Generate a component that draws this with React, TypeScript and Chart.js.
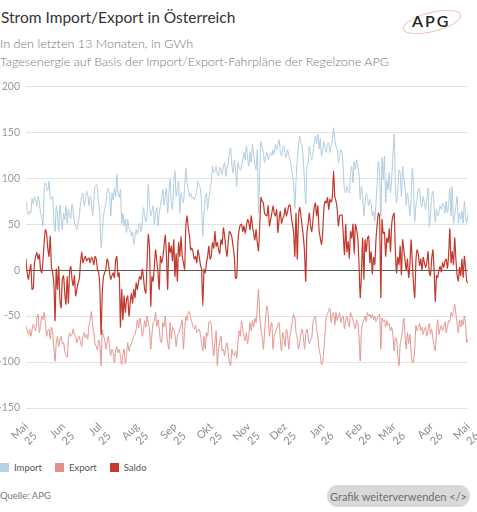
import React, { useEffect, useRef } from "react";
import { Chart, registerables } from "chart.js";

Chart.register(...registerables);

// Daily values, 1 May 2025 .. 1 May 2026 (GWh)
const importValues: number[] = [
  75, 66, 60, 64, 62, 78, 72, 80, 76, 70,
  80, 74, 62, 58, 48, 88, 95, 90, 86, 97,
  80, 77, 80, 55, 42, 70, 60, 42, 71, 58,
  44, 62, 55, 70, 51, 66, 60, 56, 72, 64,
  51, 48, 44, 52, 59, 72, 80, 84, 70, 77,
  86, 82, 70, 80, 76, 59, 74, 91, 93, 88,
  73, 62, 24, 40, 59, 66, 73, 86, 89, 82,
  59, 84, 76, 89, 80, 104, 84, 79, 88, 51,
  62, 48, 56, 41, 55, 46, 44, 37, 42, 28,
  36, 44, 39, 47, 51, 42, 50, 68, 59, 52,
  60, 93, 72, 59, 64, 70, 50, 62, 68, 48,
  62, 70, 78, 88, 71, 80, 89, 62, 84, 99,
  72, 66, 94, 108, 80, 88, 97, 62, 84, 78,
  73, 90, 111, 95, 88, 80, 84, 78, 80, 76,
  80, 86, 97, 92, 89, 70, 37, 62, 77, 84,
  66, 78, 88, 96, 113, 106, 108, 113, 104, 102,
  112, 109, 104, 113, 117, 102, 110, 117, 128, 133,
  115, 106, 120, 110, 91, 117, 112, 109, 114, 120,
  128, 120, 135, 122, 113, 128, 117, 137, 126, 115,
  109, 131, 62, 106, 140, 134, 128, 117, 124, 128,
  120, 126, 128, 124, 131, 126, 137, 131, 136, 142,
  129, 124, 133, 135, 126, 122, 131, 125, 120, 113,
  104, 95, 67, 98, 120, 135, 146, 138, 135, 120,
  96, 72, 113, 117, 135, 125, 120, 128, 137, 146,
  138, 148, 132, 143, 124, 130, 140, 133, 128, 138,
  138, 128, 135, 142, 155, 142, 135, 131, 117, 124,
  131, 128, 109, 87, 84, 91, 86, 84, 104, 113,
  95, 118, 109, 120, 112, 104, 77, 91, 82, 59,
  73, 84, 78, 70, 77, 72, 59, 64, 53, 73,
  95, 118, 106, 59, 122, 98, 124, 73, 98, 87,
  106, 84, 100, 124, 148, 95, 73, 86, 109, 106,
  80, 113, 100, 91, 70, 84, 74, 59, 77, 111,
  95, 53, 70, 77, 89, 88, 73, 69, 80, 73,
  66, 77, 89, 47, 59, 80, 86, 70, 52, 66,
  59, 62, 70, 66, 73, 70, 62, 75, 62, 72,
  89, 59, 91, 51, 60, 70, 80, 51, 62, 55,
  64, 51, 75, 58, 51, 62,
];

const exportValues: number[] = [
  -61, -66, -70, -64, -72, -65, -59, -63, -66, -52,
  -48, -68, -60, -50, -54, -46, -57, -72, -66, -64,
  -75, -62, -68, -85, -99, -79, -72, -83, -76, -72,
  -80, -79, -88, -93, -95, -75, -68, -72, -70, -64,
  -70, -72, -79, -74, -72, -78, -83, -72, -68, -74,
  -70, -75, -60, -54, -45, -59, -68, -80, -83, -87,
  -76, -80, -104, -65, -72, -75, -86, -78, -72, -84,
  -93, -86, -90, -101, -88, -83, -90, -86, -94, -103,
  -92, -86, -102, -93, -79, -88, -83, -80, -76, -72,
  -70, -64, -54, -63, -52, -60, -72, -66, -55, -62,
  -50, -58, -64, -86, -70, -57, -55, -46, -61, -54,
  -64, -77, -79, -57, -62, -50, -66, -79, -86, -57,
  -75, -62, -64, -70, -83, -72, -69, -64, -60, -54,
  -86, -66, -50, -55, -46, -45, -52, -57, -62, -64,
  -60, -68, -66, -64, -70, -79, -88, -72, -86, -68,
  -72, -57, -55, -60, -79, -93, -79, -66, -104, -86,
  -78, -72, -88, -86, -93, -84, -79, -90, -101, -104,
  -86, -92, -93, -88, -96, -79, -66, -72, -55, -64,
  -72, -77, -68, -80, -70, -57, -66, -55, -62, -52,
  -57, -40, -21, -50, -64, -72, -86, -68, -50, -39,
  -48, -72, -62, -57, -86, -72, -68, -64, -60, -57,
  -75, -88, -68, -74, -83, -64, -70, -86, -72, -64,
  -55, -48, -52, -68, -74, -86, -79, -70, -64, -72,
  -86, -70, -64, -72, -80, -76, -74, -57, -52, -50,
  -64, -72, -86, -92, -103, -100, -86, -68, -50, -48,
  -43, -41, -57, -48, -46, -60, -46, -55, -50, -46,
  -57, -52, -50, -64, -55, -50, -57, -62, -46, -50,
  -54, -60, -64, -54, -58, -72, -99, -66, -58, -54,
  -50, -56, -46, -50, -48, -52, -48, -54, -50, -56,
  -52, -50, -48, -86, -52, -56, -54, -62, -55, -60,
  -58, -66, -62, -70, -88, -74, -74, -93, -104, -80,
  -74, -64, -52, -70, -86, -68, -80, -70, -88, -101,
  -99, -86, -60, -66, -62, -58, -66, -62, -70, -64,
  -62, -72, -66, -58, -70, -64, -74, -82, -88, -66,
  -54, -70, -64, -60, -66, -62, -56, -68, -62, -55,
  -56, -46, -50, -45, -37, -48, -58, -68, -54, -62,
  -54, -60, -50, -58, -79, -75,
];

const saldoValues: number[] = [
  12, -3, -10, -1, 6, -21, -20, 8, 15, 19,
  12, 17, 1, -3, 10, 30, 44, 40, 24, 15,
  37, 4, -3, -14, -55, 1, -21, 4, -32, -41,
  -10, -6, -25, -37, -7, -36, -2, 4, -10, -17,
  -6, -28, -21, -14, -10, 8, 20, 8, 12, 15,
  10, 12, 13, 8, 14, 12, 6, 15, 12, 1,
  -3, -18, -70, -25, -7, -3, 2, 12, 8, -3,
  -10, -6, -3, -8, 10, 15, -7, -3, -62, -21,
  -54, -28, -46, -32, -28, -50, -36, -25, -36, -21,
  -30, -14, -21, -12, -7, -10, 1, -8, -21, -25,
  10, 39, 24, -39, -7, -12, 4, 22, 10, -3,
  -21, 15, 8, 14, 26, 38, 15, -21, 30, 19,
  26, 10, 33, -7, 18, -12, 30, 15, 37, 15,
  8, 1, 48, 59, 46, 37, 22, 24, 19, 12,
  15, 8, 22, 15, 6, 1, -39, 1, -3, 8,
  15, 26, 12, 15, 30, 24, 42, 26, 30, 22,
  18, 33, 28, 46, 37, 24, 15, 30, 42, 40,
  36, 26, 15, -9, -8, 30, 44, 49, 50, 42,
  48, 40, 48, 55, 52, 44, 59, 48, 40, 33,
  44, 30, 21, 48, 79, 75, 73, 62, 60, 59,
  70, 48, 55, 62, 70, 62, 59, 66, 41, 55,
  64, 51, 56, 59, 68, 59, 64, 70, 71, 59,
  50, 41, 15, 62, 12, 55, 68, 60, 48, 37,
  20, -12, 41, 51, 62, 48, 42, 55, 68, 73,
  59, 70, 44, 35, 28, 41, 66, 75, 73, 79,
  66, 77, 74, 80, 108, 80, 75, 66, 48, 59,
  60, 60, 39, 17, 50, 20, 31, 13, 42, 35,
  50, 17, 50, 44, 35, 6, -30, -3, 35, -10,
  33, 20, 35, 37, 8, 20, -4, 14, 6, 33,
  50, 62, 59, -30, 55, 40, 41, 15, 35, 30,
  45, 20, 50, 59, 62, 22, -3, 14, 6, 26,
  -5, 33, 22, 11, 0, 12, -8, 5, 33, 8,
  -15, -30, 10, 22, 17, 5, 12, 0, 14, 8,
  3, 8, 20, -3, -6, 12, 22, 0, -34, -6,
  -8, 0, 4, -2, 8, 3, 10, 12, 2, 17,
  45, 8, 20, 6, 35, 12, -5, -12, 3, -6,
  12, -8, 15, 2, -12, -14,
];

const monthLabels: string[][] = [
  ["Mai", "25"], ["Jun", "25"], ["Jul", "25"], ["Aug", "25"], ["Sep", "25"],
  ["Okt", "25"], ["Nov", "25"], ["Dez", "25"], ["Jan", "26"], ["Feb", "26"],
  ["Mär", "26"], ["Apr", "26"], ["Mai", "26"],
];

const yTicks: number[] = [-150, -100, -50, 0, 50, 100, 150, 200];

const seriesNames = ["Import", "Export", "Saldo"];
const seriesColors = ["#aecbdf", "#e2938d", "#c2392d"];
const legendColors = ["#b5d1e4", "#e0908a", "#c63a2e"];

const START = Date.UTC(2025, 4, 1);
const monthTicks: number[] = monthLabels.map((_, i) =>
  Math.round((Date.UTC(2025, 4 + i, 1) - START) / 86400000)
);

const FONT = "Lato, 'Open Sans', sans-serif";

function toPoints(arr: number[]) {
  return arr.map((v, i) => ({ x: i, y: v }));
}

export default function App() {
  const canvasRef = useRef<HTMLCanvasElement | null>(null);

  useEffect(() => {
    if (!canvasRef.current) return;
    const chart = new Chart(canvasRef.current, {
      type: "line",
      data: {
        datasets: [
          {
            label: seriesNames[2],
            data: toPoints(saldoValues),
            borderColor: seriesColors[2],
            borderWidth: 1.2,
            order: 0,
          },
          {
            label: seriesNames[1],
            data: toPoints(exportValues),
            borderColor: seriesColors[1],
            borderWidth: 1,
            order: 1,
          },
          {
            label: seriesNames[0],
            data: toPoints(importValues),
            borderColor: seriesColors[0],
            borderWidth: 1,
            order: 2,
          },
        ],
      },
      options: {
        animation: false,
        responsive: false,
        devicePixelRatio: 1,
        layout: { padding: 0 },
        elements: { point: { radius: 0 }, line: { tension: 0.2 } },
        plugins: { legend: { display: false }, tooltip: { enabled: false } },
        scales: {
          x: {
            type: "linear",
            min: 0,
            max: monthTicks[monthTicks.length - 1],
            grid: { display: false, drawTicks: false },
            border: { display: false },
            afterBuildTicks: (s: any) => {
              s.ticks = monthTicks.map((v) => ({ value: v }));
            },
            afterFit: (s: any) => {
              s.height = 48;
              s.paddingRight = 9;
              s.paddingLeft = 0;
            },
            ticks: {
              autoSkip: false,
              minRotation: 45,
              maxRotation: 45,
              padding: 12,
              color: "#8c8c8c",
              font: { family: FONT, size: 11 },
              callback: (v: any) => {
                const i = monthTicks.indexOf(Number(v));
                return i >= 0 ? monthLabels[i] : "";
              },
            },
          },
          y: {
            min: yTicks[0],
            max: yTicks[yTicks.length - 1],
            afterFit: (s: any) => {
              s.width = 26;
            },
            afterBuildTicks: (s: any) => {
              s.ticks = yTicks.map((v) => ({ value: v }));
            },
            grid: {
              drawTicks: false,
              color: (ctx: any) =>
                ctx.tick && ctx.tick.value === 0 ? "#5a5a5a" : "#e3e3e3",
              lineWidth: 1,
            },
            border: { display: false },
            ticks: {
              padding: 6,
              color: "#9a9a9a",
              font: { family: FONT, size: 10.5 },
            },
          },
        },
      },
    } as any);
    return () => chart.destroy();
  }, []);

  return (
    <div
      style={{
        position: "absolute",
        left: 0,
        top: 0,
        width: 477,
        height: 512,
        fontFamily: FONT,
        background: "#fff",
        overflow: "hidden",
      }}
    >
      <div style={{ position: "absolute", left: 1, top: 8, fontSize: 15.5, color: "#333" }}>
        Strom Import/Export in Österreich
      </div>
      <div style={{ position: "absolute", left: 0, top: 36, fontSize: 12.6, color: "#777", fontWeight: 300 }}>
        In den letzten 13 Monaten, in GWh
      </div>
      <div style={{ position: "absolute", left: 0, top: 54, fontSize: 12.6, color: "#777", fontWeight: 300 }}>
        Tagesenergie auf Basis der Import/Export-Fahrpläne der Regelzone APG
      </div>
      <div style={{ position: "absolute", left: 400, top: 6, width: 64, height: 30 }}>
        <div
          style={{
            position: "absolute",
            left: 2,
            top: 6,
            width: 58,
            height: 18,
            borderRadius: "50%",
            border: "1.5px solid #ecc0c3",
            transform: "rotate(-14deg)",
          }}
        />
        <div
          style={{
            position: "absolute",
            left: 12,
            top: 5,
            fontSize: 16,
            fontWeight: 600,
            letterSpacing: 2,
            color: "#222",
          }}
        >
          APG
        </div>
      </div>
      <canvas
        ref={canvasRef}
        width={477}
        height={382}
        style={{ position: "absolute", left: 0, top: 74, width: 477, height: 382 }}
      />
      <div style={{ position: "absolute", left: 0, top: 462, display: "flex", alignItems: "center", fontSize: 9.5, color: "#555" }}>
        {seriesNames.map((n, i) => (
          <div key={n} style={{ display: "flex", alignItems: "center", marginRight: 13 }}>
            <span style={{ display: "inline-block", width: 9, height: 9, background: legendColors[i], marginRight: 5 }} />
            <span>{n}</span>
          </div>
        ))}
      </div>
      <div style={{ position: "absolute", left: 0, top: 490, fontSize: 9.5, color: "#777" }}>Quelle: APG</div>
      <div
        style={{
          position: "absolute",
          left: 327,
          top: 485,
          width: 143,
          height: 22,
          borderRadius: 11,
          background: "#d9d9d9",
          color: "#6e6e6e",
          fontSize: 11,
          display: "flex",
          alignItems: "center",
          justifyContent: "center",
        }}
      >
        Grafik weiterverwenden &lt;/&gt;
      </div>
    </div>
  );
}
